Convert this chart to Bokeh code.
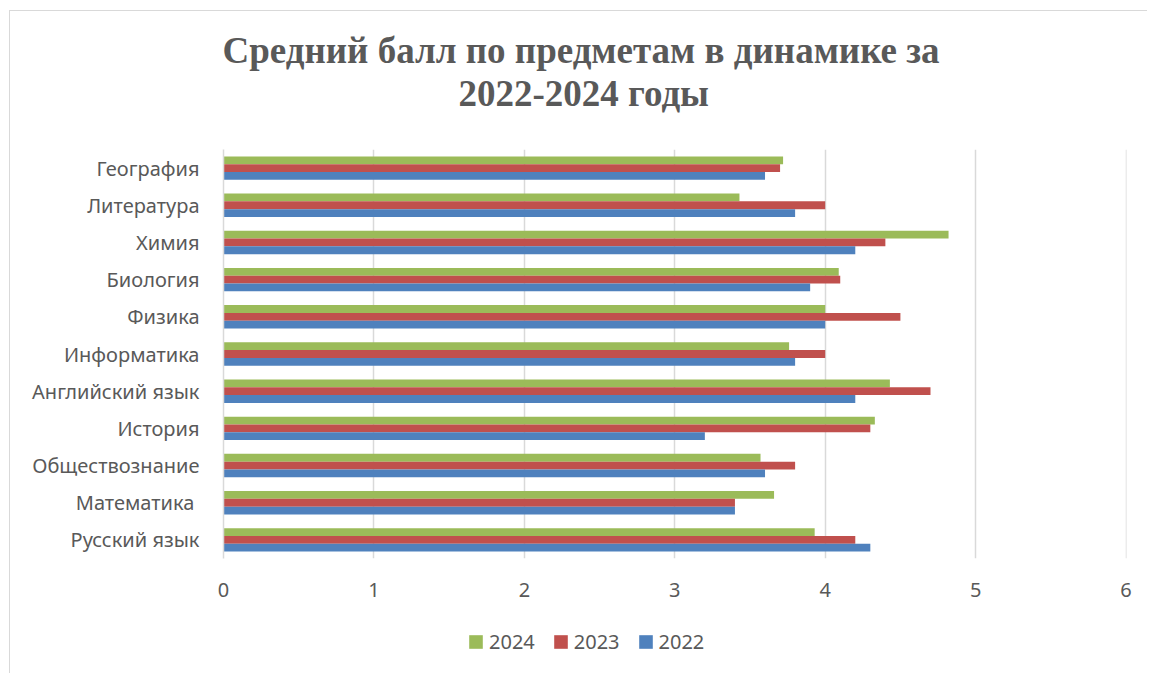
from bokeh.plotting import figure
from bokeh.layouts import column
from bokeh.models import (FactorRange, Range1d, Legend, LegendItem, Title,
                          FixedTicker, ColumnDataSource, InlineStyleSheet)
from bokeh.transform import dodge
from bokeh.embed import file_html
from bokeh.resources import INLINE

# ---- data (bottom to top) ----
categories = ["Русский язык", "Математика ", "Обществознание", "История",
              "Английский язык", "Информатика", "Физика", "Биология",
              "Химия", "Литература", "География"]
v2022 = [4.3, 3.4, 3.6, 3.2, 4.2, 3.8, 4.0, 3.9, 4.2, 3.8, 3.6]
v2023 = [4.2, 3.4, 3.8, 4.3, 4.7, 4.0, 4.5, 4.1, 4.4, 4.0, 3.7]
v2024 = [3.93, 3.66, 3.57, 4.33, 4.43, 3.76, 4.0, 4.09, 4.82, 3.43, 3.72]
x_ticks = [0, 1, 2, 3, 4, 5, 6]
series_labels = ["2024", "2023", "2022"]
title_lines = ["Средний балл по предметам в динамике за", "2022-2024 годы"]

GREY = "#595959"
GRID = "#d9d9d9"
C2024, C2023, C2022 = "#9BBB59", "#C0504D", "#4F81BD"
FONT = "Noto Sans"

src = ColumnDataSource(dict(cat=categories, y2022=v2022, y2023=v2023, y2024=v2024))

W = 1147
H1 = 616          # chart part
H2 = 57           # legend strip
p = figure(width=W, height=H1, title=None,
           y_range=FactorRange(factors=categories, range_padding=0),
           x_range=Range1d(0, 6.003),
           output_backend="svg", toolbar_location=None,
           min_border_left=223, min_border_right=W - 1126,
           min_border_top=149, min_border_bottom=H1 - 558)
p.outline_line_color = None
p.background_fill_color = "white"
p.border_fill_color = "white"

bh = 0.21
r24 = p.hbar(y=dodge("cat", 0.21, range=p.y_range), right="y2024", left=0, height=bh,
             source=src, fill_color=C2024, line_color=None)
r23 = p.hbar(y=dodge("cat", 0.0, range=p.y_range), right="y2023", left=0, height=bh,
             source=src, fill_color=C2023, line_color=None)
r22 = p.hbar(y=dodge("cat", -0.21, range=p.y_range), right="y2022", left=0, height=bh,
             source=src, fill_color=C2022, line_color=None)

# axes
p.xaxis.ticker = FixedTicker(ticks=x_ticks)
p.xaxis.axis_line_color = None
p.xaxis.major_tick_line_color = None
p.xaxis.major_tick_out = 0
p.xaxis.major_tick_in = 0
p.xaxis.minor_tick_line_color = None
p.xaxis.major_label_standoff = 24
p.xaxis.major_label_text_font = FONT
p.xaxis.major_label_text_font_size = "20px"
p.xaxis.major_label_text_color = GREY

p.yaxis.axis_line_color = GRID
p.yaxis.axis_line_width = 1.5
p.yaxis.major_tick_line_color = None
p.yaxis.major_tick_out = 0
p.yaxis.major_tick_in = 0
p.yaxis.minor_tick_line_color = None
p.yaxis.major_label_standoff = 24
p.yaxis.major_label_text_font = FONT
p.yaxis.major_label_text_font_size = "20px"
p.yaxis.major_label_text_color = GREY

p.xgrid.grid_line_color = GRID
p.xgrid.grid_line_width = 1.5
p.ygrid.grid_line_color = None

# title: spacer first, then second line, then first line (outermost)
p.add_layout(Title(text=" ", text_font_size="1px", standoff=33), "above")
p.add_layout(Title(text=title_lines[1], align="left", offset=235,
                   text_font="Liberation Serif", text_font_style="bold",
                   text_font_size="37px", text_color=GREY, standoff=0), "above")
p.add_layout(Title(text=title_lines[0], align="left", offset=-1,
                   text_font="Liberation Serif", text_font_style="bold",
                   text_font_size="37px", text_color=GREY, standoff=0), "above")

# legend strip (separate figure below the chart, same colours)
q = figure(width=W, height=H2, x_range=Range1d(0, 100), y_range=Range1d(0, 100),
           output_backend="svg", toolbar_location=None,
           min_border=0, min_border_left=0, min_border_right=0,
           min_border_top=0, min_border_bottom=0)
q.axis.visible = False
q.grid.visible = False
q.outline_line_color = None
q.background_fill_color = "white"
q.border_fill_color = "white"
# zero-size proxies sharing the chart's data, used only for the legend swatches
proxies = [q.hbar(y=0, left=0, right=0, height=0, source=src,
                  fill_color=c, line_color=None) for c in (C2024, C2023, C2022)]
legend = Legend(items=[LegendItem(label=lab, renderers=[r])
                       for lab, r in zip(series_labels, proxies)],
                orientation="horizontal", location=(244, 18),
                glyph_width=17, glyph_height=17, label_standoff=5, spacing=17,
                padding=0, margin=0, border_line_color=None,
                background_fill_alpha=0,
                label_text_font=FONT, label_text_font_size="20px",
                label_text_color=GREY)
q.add_layout(legend, "center")

layout = column(p, q, spacing=0)
layout.stylesheets = [InlineStyleSheet(css="""
:host::after { content: ""; position: absolute; left: 9px; top: 10px; right: 0; bottom: 0;
  border-top: 1.5px solid #d9d9d9; border-left: 1.5px solid #d9d9d9;
  pointer-events: none; z-index: 100; }
""")]

open("out.html", "w").write(file_html(layout, INLINE))
